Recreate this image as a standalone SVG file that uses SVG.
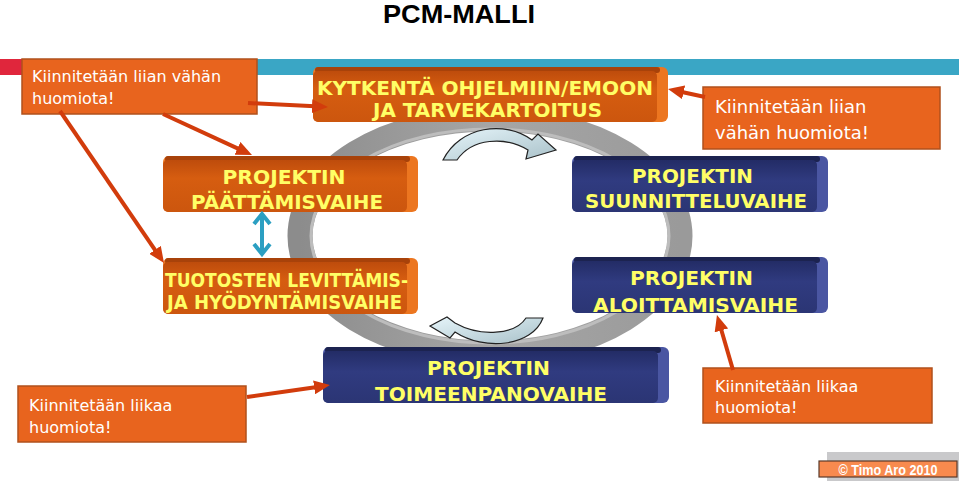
<svg xmlns="http://www.w3.org/2000/svg" width="959" height="481" viewBox="0 0 959 481">
<defs>
<style>
.title{font-family:"Liberation Sans",Arial,sans-serif;font-weight:bold;font-size:25px;fill:#000}
.bt{font-family:"DejaVu Sans",Verdana,sans-serif;font-weight:bold;font-size:19px;fill:#FFFF66;text-anchor:middle}
.ct{font-family:"DejaVu Sans",Verdana,sans-serif;font-size:16px;fill:#fff}
.callout{fill:#E8641E;stroke:#B0501C;stroke-width:1.5}
.oside{fill:#EC7620}
.otop{fill:#A8420A}
.oface{fill:url(#og)}
.nside{fill:#4A56A2}
.ntop{fill:#1C2350}
.nface{fill:url(#ng)}
.conn{stroke:#D23C0C;stroke-width:4;fill:none;marker-end:url(#ah)}
.cyc{fill:url(#cg);stroke:#222;stroke-width:1.2}
</style>
<linearGradient id="og" x1="0" y1="0" x2="0" y2="1">
<stop offset="0" stop-color="#BE4C0C"/><stop offset="0.35" stop-color="#D65D10"/><stop offset="1" stop-color="#CC560E"/>
</linearGradient>
<linearGradient id="ng" x1="0" y1="0" x2="0" y2="1">
<stop offset="0" stop-color="#232C66"/><stop offset="0.4" stop-color="#303B80"/><stop offset="1" stop-color="#2B3574"/>
</linearGradient>
<linearGradient id="rg" x1="0" y1="0" x2="1" y2="0">
<stop offset="0" stop-color="#8C8C8C"/><stop offset="0.5" stop-color="#A6A6A6"/><stop offset="1" stop-color="#9A9A9A"/>
</linearGradient>
<linearGradient id="cg" x1="0" y1="0" x2="1" y2="1">
<stop offset="0" stop-color="#E6F5FA"/><stop offset="1" stop-color="#A9C1C9"/>
</linearGradient>
<marker id="ah" markerWidth="16" markerHeight="14" refX="3" refY="7" orient="auto" markerUnits="userSpaceOnUse">
<path d="M0,0 L16,7 L0,14 z" fill="#D23C0C"/>
</marker>
</defs>
<rect width="959" height="481" fill="#fff"/>
<text class="title" x="383" y="23" textLength="152" lengthAdjust="spacingAndGlyphs">PCM-MALLI</text>
<g id="topbar">
<rect x="0" y="59" width="140" height="16" fill="#E0263C"/>
<rect x="140" y="59" width="819" height="16" fill="#3AA6C5"/>
</g>
<g id="ring">
<ellipse cx="490" cy="236" rx="190" ry="117" fill="none" stroke="url(#rg)" stroke-width="25"/>
<ellipse cx="490" cy="236" rx="179" ry="107" fill="none" stroke="#BDBDBD" stroke-width="3"/>
</g>
<g id="cycle-arrows">
<path class="cyc" d="M443,160 C460,126 505,120 532,140 L538,134 L556,150 L526,159 L528,150 C505,136 472,138 457,160 Z"/>
<path class="cyc" d="M543,318 C532,347 484,351 455,332 L450,338 L430,326 L447,317 L455,323 C480,337 515,335 526,318 Z"/>
</g>
<g id="kytkenta">
<rect class="oside" x="313" y="67" width="355" height="55" rx="6"/>
<rect class="otop" x="315" y="67" width="345" height="6" rx="3"/>
<rect class="oface" x="313" y="71" width="344" height="51" rx="5"/>
<text class="bt" x="485" y="95" textLength="336" lengthAdjust="spacingAndGlyphs">KYTKENTÄ OHJELMIIN/EMOON</text>
<text class="bt" x="487.5" y="117" textLength="229" lengthAdjust="spacingAndGlyphs">JA TARVEKARTOITUS</text>
</g>
<g id="paattamis">
<rect class="oside" x="163" y="156" width="255" height="56" rx="6"/>
<rect class="otop" x="165" y="156" width="245" height="6" rx="3"/>
<rect class="oface" x="163" y="160" width="244" height="52" rx="5"/>
<text class="bt" x="284" y="184" textLength="123" lengthAdjust="spacingAndGlyphs">PROJEKTIN</text>
<text class="bt" x="287" y="209" textLength="192" lengthAdjust="spacingAndGlyphs">PÄÄTTÄMISVAIHE</text>
</g>
<g id="tuotosten">
<rect class="oside" x="163" y="258" width="255" height="56" rx="6"/>
<rect class="otop" x="165" y="258" width="245" height="6" rx="3"/>
<rect class="oface" x="163" y="262" width="244" height="52" rx="5"/>
<text class="bt" x="286.5" y="287" textLength="243" lengthAdjust="spacingAndGlyphs">TUOTOSTEN LEVITTÄMIS-</text>
<text class="bt" x="284.5" y="309" textLength="235" lengthAdjust="spacingAndGlyphs">JA HYÖDYNTÄMISVAIHE</text>
</g>
<g id="suunnittelu">
<rect class="nside" x="572" y="156" width="256" height="56" rx="6"/>
<rect class="ntop" x="574" y="156" width="246" height="6" rx="3"/>
<rect class="nface" x="572" y="160" width="245" height="52" rx="5"/>
<text class="bt" x="692.5" y="183" textLength="121" lengthAdjust="spacingAndGlyphs">PROJEKTIN</text>
<text class="bt" x="696" y="208" textLength="222" lengthAdjust="spacingAndGlyphs">SUUNNITTELUVAIHE</text>
</g>
<g id="aloittamis">
<rect class="nside" x="572" y="257" width="256" height="56" rx="6"/>
<rect class="ntop" x="574" y="257" width="246" height="6" rx="3"/>
<rect class="nface" x="572" y="261" width="245" height="52" rx="5"/>
<text class="bt" x="691.5" y="285" textLength="123" lengthAdjust="spacingAndGlyphs">PROJEKTIN</text>
<text class="bt" x="695.5" y="312" textLength="205" lengthAdjust="spacingAndGlyphs">ALOITTAMISVAIHE</text>
</g>
<g id="toimeenpano">
<rect class="nside" x="323" y="347" width="346" height="56" rx="6"/>
<rect class="ntop" x="325" y="347" width="336" height="6" rx="3"/>
<rect class="nface" x="323" y="351" width="335" height="52" rx="5"/>
<text class="bt" x="488.5" y="375" textLength="123" lengthAdjust="spacingAndGlyphs">PROJEKTIN</text>
<text class="bt" x="491" y="401" textLength="232" lengthAdjust="spacingAndGlyphs">TOIMEENPANOVAIHE</text>
</g>
<g id="callout-top-left">
<rect class="callout" x="22" y="59" width="235" height="55"/>
<text class="ct" x="32" y="82">Kiinnitetään liian vähän</text>
<text class="ct" x="32" y="104">huomiota!</text>
</g>
<g id="callout-top-right">
<rect class="callout" x="703" y="87" width="237" height="62"/>
<text class="ct" x="715" y="113" style="font-size:18px">Kiinnitetään liian</text>
<text class="ct" x="715" y="139" style="font-size:18px">vähän huomiota!</text>
</g>
<g id="callout-bottom-left">
<rect class="callout" x="18" y="386" width="228" height="56"/>
<text class="ct" x="29" y="411">Kiinnitetään liikaa</text>
<text class="ct" x="29" y="433">huomiota!</text>
</g>
<g id="callout-bottom-right">
<rect class="callout" x="703" y="368" width="229" height="55"/>
<text class="ct" x="715" y="392">Kiinnitetään liikaa</text>
<text class="ct" x="715" y="413">huomiota!</text>
</g>
<g id="connectors">
<line class="conn" x1="248" y1="103" x2="315" y2="106.3"/>
<line class="conn" x1="163" y1="114" x2="240.2" y2="149.6"/>
<line class="conn" x1="60" y1="111" x2="156.7" y2="252.3"/>
<line class="conn" x1="705" y1="97" x2="680.7" y2="91.7"/>
<line class="conn" x1="247" y1="397" x2="317.1" y2="386.9"/>
<line class="conn" x1="733" y1="370" x2="720.6" y2="327.5"/>
<g stroke="#2B9FC2" stroke-width="4" fill="none">
<line x1="262" y1="216" x2="262" y2="252"/>
<polyline points="254,224 262,214 270,224"/>
<polyline points="254,244 262,254 270,244"/>
</g>
</g>
<g id="copyright">
<rect x="827" y="452" width="132" height="29" fill="#C9C9CB"/>
<rect x="819" y="461" width="138" height="16" fill="#F88A4E" stroke="#5A3A2A" stroke-width="1.2"/>
<text x="888" y="474.5" text-anchor="middle" font-family="Liberation Sans,Arial,sans-serif" font-weight="bold" font-size="14" fill="#fff" textLength="99" lengthAdjust="spacingAndGlyphs">© Timo Aro 2010</text>
</g>
</svg>
